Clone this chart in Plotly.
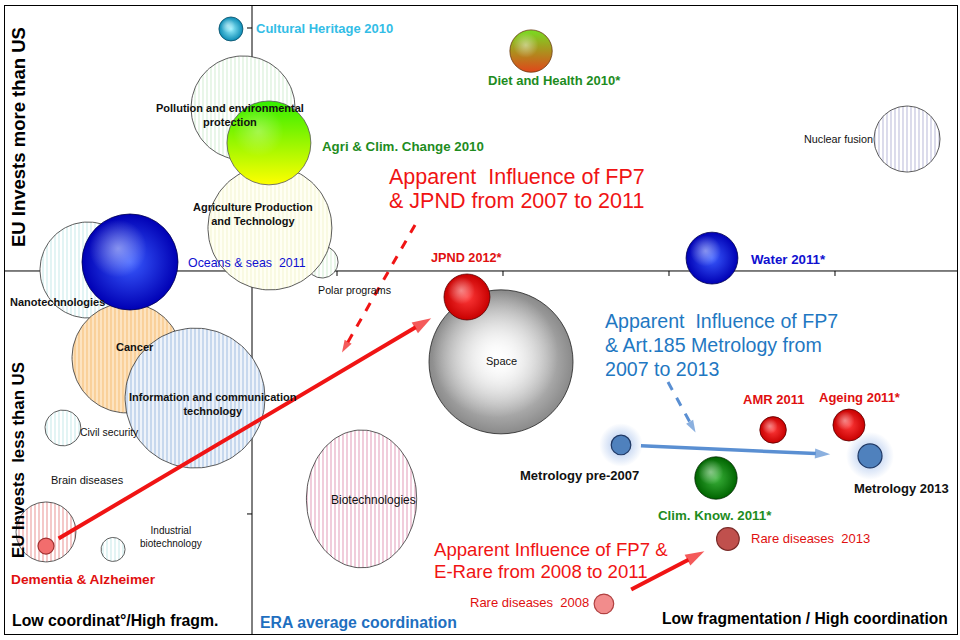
import numpy as np
import plotly.graph_objects as go

# ---- data -------------------------------------------------------------
# x: coordination score (ERA average ~1.49), y: EU vs US investment balance
# size: relative budget (bubble area)

# FP7 themes (hatched bubbles)
theme_names = ["Polar programs", "Agriculture Production<br>and Technology",
               "Pollution and environmental<br>protection", "Nanotechnologies",
               "Cancer", "Information and communication<br>technology",
               "Civil security", "Brain diseases", "Industrial<br>biotechnology",
               "Dementia hatched", "Biotechnologies", "Nuclear fusion"]
theme_x = [1.910, 1.596, 1.434, 0.500, 0.735, 1.145, 0.349, 0.494, 0.651, 0.247, 2.148, 5.434]
theme_y = [0.037, 0.177, 0.671, 0.004, -0.358, -0.523, -0.646, -0.860, -1.146, -1.074, -0.938, 0.543]
theme_size = [16, 240, 169, 144, 189, 306, 20, 0, 9, 56, 190, 68]

# joint programmes / initiatives (shaded balls)
prog_names = ["Space", "Cultural Heritage 2010", "Diet and Health 2010*",
              "Agri & Clim. Change 2010", "Oceans & seas  2011", "JPND 2012*",
              "Water 2011*", "AMR 2011", "Ageing 2011*", "Clim. Know. 2011*",
              "Metrology pre-2007", "Metrology 2013", "Rare diseases  2013",
              "Rare diseases  2008", "Dementia & Alzheimer"]
prog_x = [2.988, 1.361, 3.169, 1.590, 0.753, 2.783, 4.259, 4.627, 5.084, 4.283,
          3.711, 5.211, 4.355, 3.608, 0.247]
prog_y = [-0.374, 0.996, 0.905, 0.527, 0.037, -0.107, 0.053, -0.654, -0.634, -0.852,
          -0.716, -0.761, -1.103, -1.370, -1.132]
prog_size = [324, 9, 28, 110, 144, 33, 42, 11, 16, 28, 6, 9, 8, 6, 4]

x_ticks = [1, 2, 3, 4, 5]
y_ticks = [-1, 1]
ERA_AVG = 1.488

# ---- layout constants --------------------------------------------------
W, H = 960, 640
M = dict(l=5, r=3, t=6, b=6)
X_RANGE = [0, 5.735]
Y_RANGE = [-1.494, 1.0905]
PX_X = (W - M["l"] - M["r"]) / (X_RANGE[1] - X_RANGE[0])
PX_Y = (H - M["t"] - M["b"]) / (Y_RANGE[1] - Y_RANGE[0])
R_SCALE = 4.0  # radius px = R_SCALE * sqrt(size)

FONT = "Liberation Sans, Arial, sans-serif"
NARROW = "Liberation Sans Narrow, Arial Narrow, Liberation Sans, Arial, sans-serif"

# (stripe colour, background, vertical stretch)
theme_style = {
    "Polar programs": ("#bfe6bf", "#ffffff", 1.0),
    "Agriculture Production<br>and Technology": ("#eef0c0", "#fffff4", 1.0),
    "Pollution and environmental<br>protection": ("#bfe6bf", "#ffffff", 1.0),
    "Nanotechnologies": ("#aee0e0", "#ffffff", 1.0),
    "Cancer": ("#f3ad55", "#fde3c0", 1.0),
    "Information and communication<br>technology": ("#7ea6d6", "#eef3fa", 1.0),
    "Civil security": ("#aee0e0", "#ffffff", 1.0),
    "Brain diseases": ("#aee0e0", "#ffffff", 1.0),
    "Industrial<br>biotechnology": ("#aee0e0", "#ffffff", 1.0),
    "Dementia hatched": ("#e06464", "#ffffff", 1.0),
    "Biotechnologies": ("#d6709a", "#ffffff", 1.25),
    "Nuclear fusion": ("#9a9ac8", "#ffffff", 1.0),
}

# (centre colour, edge colour, gradient type, outline, highlight strength)
prog_style = {
    "Space": ("#ffffff", "#8a8a8a", "radial", "#222222", 0.95),
    "Cultural Heritage 2010": ("#9af2ff", "#0a8ab4", "radial", "#074d66", 0.45),
    "Diet and Health 2010*": ("#77dd22", "#e0461a", "vertical", "#6a3a10", 0.45),
    "Agri & Clim. Change 2010": ("#33ee00", "#ffff00", "vertical", "#555555", 0.3),
    "Oceans & seas  2011": ("#3a5cff", "#0000b4", "radial", "#000050", 0.45),
    "JPND 2012*": ("#ff3a3a", "#c80000", "radial", "#5a0000", 0.45),
    "Water 2011*": ("#3a5cff", "#0000b4", "radial", "#000050", 0.45),
    "AMR 2011": ("#ff3a3a", "#c80000", "radial", "#5a0000", 0.45),
    "Ageing 2011*": ("#ff3a3a", "#c80000", "radial", "#5a0000", 0.45),
    "Clim. Know. 2011*": ("#3cb43c", "#006400", "radial", "#002800", 0.45),
    "Metrology pre-2007": ("#4f81bd", "#4f81bd", "none", "#1f3864", 0),
    "Metrology 2013": ("#4f81bd", "#4f81bd", "none", "#1f3864", 0),
    "Rare diseases  2013": ("#c0504d", "#c0504d", "none", "#7a2a28", 0),
    "Rare diseases  2008": ("#f28c8c", "#f28c8c", "none", "#b04040", 0),
    "Dementia & Alzheimer": ("#f26d6d", "#f26d6d", "none", "#a03030", 0),
}

# label: (xshift, yshift, xanchor, colour, size, bold, family)
theme_label = {
    "Polar programs": (32, -28, "center", "#111111", 10.7, False, NARROW),
    "Agriculture Production<br>and Technology": (-17, 14, "center", "#111111", 11, True, FONT),
    "Pollution and environmental<br>protection": (-13, -7, "center", "#111111", 11, True, FONT),
    "Nanotechnologies": (-31, -32, "center", "#111111", 11, True, FONT),
    "Cancer": (8, 11, "center", "#111111", 11, True, FONT),
    "Information and communication<br>technology": (18, -6, "center", "#111111", 11, True, FONT),
    "Civil security": (47, -5, "center", "#111111", 10.4, False, FONT),
    "Brain diseases": (0, 0, "center", "#111111", 11, False, FONT),
    "Industrial<br>biotechnology": (58, 12, "center", "#111111", 10, False, FONT),
    "Biotechnologies": (12, -1, "center", "#111111", 12, False, NARROW),
    "Nuclear fusion": (-69, 0, "center", "#111111", 10.8, False, NARROW),
}
prog_label = {
    "Space": (0, 1, "center", "#111111", 11, False, NARROW),
    "Cultural Heritage 2010": (23, 0, "left", "#33bde6", 13, True, NARROW),
    "Diet and Health 2010*": (23, -29, "center", "#1e8c1e", 13, True, NARROW),
    "Agri & Clim. Change 2010": (51, -4, "left", "#1e8c1e", 13.3, True, NARROW),
    "Oceans & seas  2011": (56, -1, "left", "#1010d0", 12.4, False, FONT),
    "JPND 2012*": (0, 39, "center", "#e01010", 12.7, True, NARROW),
    "Water 2011*": (37, -1, "left", "#1010d0", 13.3, True, NARROW),
    "AMR 2011": (0, 30, "center", "#e01010", 13, True, NARROW),
    "Ageing 2011*": (11, 28, "center", "#e01010", 13, True, NARROW),
    "Clim. Know. 2011*": (-1, -37, "center", "#1e8c1e", 13.3, True, NARROW),
    "Metrology pre-2007": (-42, -31, "center", "#111111", 13, True, NARROW),
    "Metrology 2013": (31, -33, "center", "#111111", 13, True, NARROW),
    "Rare diseases  2013": (21, 0, "left", "#e01010", 13, False, NARROW),
    "Rare diseases  2008": (-13, 1, "right", "#e01010", 13, False, NARROW),
    "Dementia & Alzheimer": (37, -33, "center", "#e01010", 13.7, True, FONT),
}

fig = go.Figure()

# ---- hatched theme bubbles --------------------------------------------
t = np.linspace(0, 2 * np.pi, 120)
for name, cx, cy, s in zip(theme_names, theme_x, theme_y, theme_size):
    if s <= 0:
        continue
    r = R_SCALE * np.sqrt(s)
    fg, bg, stretch = theme_style[name]
    fig.add_trace(go.Scatter(
        x=cx + r / PX_X * np.cos(t), y=cy + stretch * r / PX_Y * np.sin(t),
        mode="lines", fill="toself", fillcolor=bg,
        fillpattern=dict(shape="|", fgcolor=fg, bgcolor=bg, size=4, solidity=0.35),
        line=dict(color="#333333", width=0.8), hoverinfo="skip", showlegend=False,
    ))

# ---- glow behind metrology points ---------------------------------------
glow = [n.startswith("Metrology") for n in prog_names]
fig.add_trace(go.Scatter(
    x=[x for x, g in zip(prog_x, glow) if g], y=[y for y, g in zip(prog_y, glow) if g],
    mode="markers", hoverinfo="skip", showlegend=False,
    marker=dict(size=[2 * R_SCALE * np.sqrt(s) + 24 for s, g in zip(prog_size, glow) if g],
                color="rgba(120,160,225,0)", line=dict(width=0),
                gradient=dict(type="radial", color="rgba(120,160,225,0.95)")),
))

# ---- shaded balls -------------------------------------------------------
for name, cx, cy, s in zip(prog_names, prog_x, prog_y, prog_size):
    c0, c1, gtype, edge, shine = prog_style[name]
    r = R_SCALE * np.sqrt(s)
    if gtype == "radial":
        # plotly radial gradient: gradient colour at centre, marker colour at rim
        col, gcol = c1, c0
    else:
        col, gcol = c0, c1
    fig.add_trace(go.Scatter(
        x=[cx], y=[cy], mode="markers", hoverinfo="skip", showlegend=False,
        marker=dict(size=2 * r, color=col, gradient=dict(type=gtype, color=gcol),
                    line=dict(color=edge, width=1.2 if gtype == "none" else 0.8)),
    ))
    if shine > 0:
        # soft highlight towards the upper left
        big = name == "Space"
        fig.add_trace(go.Scatter(
            x=[cx - (0.08 if big else 0.25) * r / PX_X],
            y=[cy + (0.1 if big else 0.28) * r / PX_Y], mode="markers",
            hoverinfo="skip", showlegend=False,
            marker=dict(size=(1.75 if big else 1.2) * r, color="rgba(255,255,255,0)",
                        line=dict(width=0),
                        gradient=dict(type="radial", color=f"rgba(255,255,255,{shine})")),
        ))


# ---- arrows between programme states -----------------------------------
def arrow(a, b, t0, t1, color, width, head):
    i, j = prog_names.index(a), prog_names.index(b)
    xa, ya, xb, yb = prog_x[i], prog_y[i], prog_x[j], prog_y[j]
    xs = [xa + (xb - xa) * t0, xa + (xb - xa) * t1]
    ys = [ya + (yb - ya) * t0, ya + (yb - ya) * t1]
    fig.add_trace(go.Scatter(
        x=xs, y=ys, mode="lines+markers", hoverinfo="skip", showlegend=False,
        line=dict(color=color, width=width),
        marker=dict(symbol="arrow", angleref="previous", size=[0, head],
                    color=color, line=dict(width=0)),
    ))


arrow("Dementia & Alzheimer", "JPND 2012*", 0.03, 0.915, "#f01414", 4, 20)
arrow("Metrology pre-2007", "Metrology 2013", 0.08, 0.84, "#5a8fd2", 3.5, 16)
arrow("Rare diseases  2008", "Rare diseases  2013", 0.22, 0.81, "#f01414", 4, 20)

# dashed pointers from the notes
pointers = [((2.470, 0.189), (2.030, -0.335), "#f01414"),
            ((3.994, -0.457), (4.160, -0.665), "#5a8fd2")]
for (x0, y0), (x1, y1), col in pointers:
    fig.add_trace(go.Scatter(
        x=[x0, x1], y=[y0, y1], mode="lines+markers", hoverinfo="skip", showlegend=False,
        line=dict(color=col, width=3, dash="dash"),
        marker=dict(symbol="arrow", angleref="previous", size=[0, 13], color=col,
                    line=dict(width=0)),
    ))

# ---- labels -------------------------------------------------------------
ann = []


def add_label(text, x, y, spec):
    dx, dy, anchor, col, size, bold, fam = spec
    ann.append(dict(x=x, y=y, xref="x", yref="y", text=f"<b>{text}</b>" if bold else text,
                    showarrow=False, xshift=dx, yshift=dy, xanchor=anchor, yanchor="middle",
                    font=dict(color=col, size=size, family=fam), align="center"))


for name, cx, cy in zip(theme_names, theme_x, theme_y):
    if name in theme_label:
        add_label(name, cx, cy, theme_label[name])
for name, cx, cy in zip(prog_names, prog_x, prog_y):
    add_label(name, cx, cy, prog_label[name])

# notes: lines, left x, first line y, line spacing (px), colour, font size
notes = [
    (["Apparent  Influence of FP7", "& JPND from 2007 to 2011"], 2.301, 0.387, 24, "#f01414", 21.5),
    (["Apparent  Influence of FP7", "& Art.185 Metrology from", "2007 to 2013"],
     3.602, -0.206, 24, "#1f78c2", 19.6),
    (["Apparent Influence of FP7 &", "E-Rare from 2008 to 2011"], 2.572, -1.148, 22, "#f01414", 18.6),
]
for lines, x, y0, step, col, size in notes:
    for k, line in enumerate(lines):
        ann.append(dict(x=x, y=y0 - k * step / PX_Y, xref="x", yref="y", text=line,
                        showarrow=False, xanchor="left", yanchor="middle",
                        font=dict(color=col, size=size, family=NARROW)))

corner = [
    ("<b>Low coordinat°/High fragm.</b>", 0.03, -1.440, "left", "#000000", 15.8),
    ("<b>ERA average coordination</b>", 1.524, -1.448, "left", "#1f6fbf", 15.8),
    ("<b>Low fragmentation / High coordination</b>", 5.69, -1.432, "right", "#000000", 15.6),
]
for text, x, y, anchor, col, size in corner:
    ann.append(dict(x=x, y=y, xref="x", yref="y", text=text, showarrow=False,
                    xanchor=anchor, yanchor="middle",
                    font=dict(color=col, size=size, family=FONT)))

for text, y, size in [("<b>EU Invests more than US</b>", 0.551, 18.5),
                      ("<b>EU Invests  less than US</b>", -0.778, 16.8)]:
    ann.append(dict(x=0.078, y=y, xref="x", yref="y", text=text, showarrow=False,
                    textangle=-90, xanchor="center", yanchor="middle",
                    font=dict(color="#000000", size=size, family=FONT)))

# ---- axis cross and ticks -------------------------------------------------
shapes = [
    dict(type="line", xref="x", yref="paper", x0=ERA_AVG, x1=ERA_AVG, y0=0, y1=1,
         line=dict(color="#000000", width=1), layer="below"),
    dict(type="line", xref="paper", yref="y", x0=0, x1=1, y0=0, y1=0,
         line=dict(color="#000000", width=1), layer="below"),
]
for xt in x_ticks:
    shapes.append(dict(type="line", xref="x", yref="y", x0=xt, x1=xt, ysizemode="pixel",
                       yanchor=0, y0=0, y1=-5, line=dict(color="#000000", width=1),
                       layer="below"))
for yt in y_ticks:
    shapes.append(dict(type="line", xref="x", yref="y", y0=yt, y1=yt, xsizemode="pixel",
                       xanchor=ERA_AVG, x0=-5, x1=0, line=dict(color="#000000", width=1),
                       layer="below"))

axis = dict(showgrid=False, zeroline=False, showticklabels=False, ticks="",
            showline=True, mirror=True, linecolor="#000000", linewidth=1, fixedrange=True)
fig.update_xaxes(range=X_RANGE, **axis)
fig.update_yaxes(range=Y_RANGE, **axis)
fig.update_layout(
    width=W, height=H, margin=M,
    paper_bgcolor="#ffffff", plot_bgcolor="#ffffff",
    font=dict(family=FONT), showlegend=False,
    annotations=ann, shapes=shapes,
)

fig.write_html("out.html", config={"displayModeBar": False},
               post_script="document.body.style.margin='0';")
